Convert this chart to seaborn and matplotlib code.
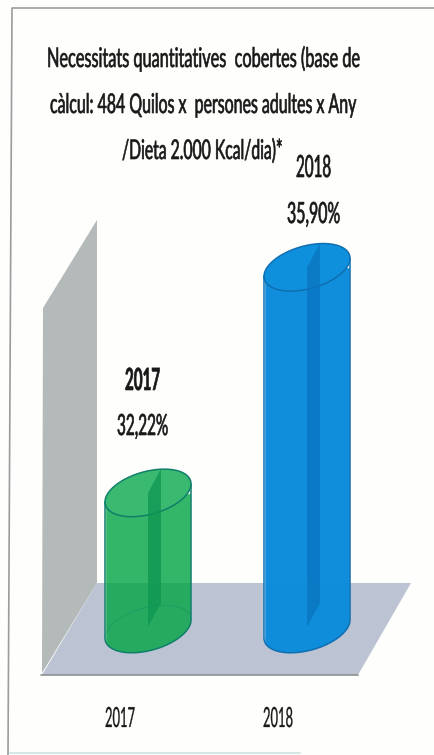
import matplotlib
matplotlib.use("Agg")
import matplotlib.pyplot as plt
import seaborn as sns
import pandas as pd
from matplotlib.patches import Polygon
from matplotlib.patheffects import AbstractPathEffect
from matplotlib.transforms import Affine2D
import numpy as np

years = ["2017", "2018"]
coverage = [32.22, 35.90]
value_labels = ["32,22%", "35,90%"]
title_lines = [
    "Necessitats quantitatives  cobertes (base de",
    "càlcul: 484 Quilos x  persones adultes x Any",
    "/Dieta 2.000 Kcal/dia)*",
]
bar_colors = ["#00a442", "#0b8cdb"]
bar_alpha = [0.80, 0.98]
edge_colors = ["#0f7f6a", "#0f6fb0"]
rim_alpha = [0.45, 0.0]
fin_colors = ["#0d9550", "#0a74bf"]
cap_colors = ["#3aba70", "#0f90dc"]

W, H = 434, 755
PX_PER_UNIT = 61.3
BASE_VALUE = 30.0
BASE_ROW = 629
CAT_STEP = 159
FIRST_COL = 148


def col_to_x(col):
    return (col - FIRST_COL) / CAT_STEP


def row_to_y(row):
    return BASE_VALUE + (BASE_ROW - row) / PX_PER_UNIT


class TallGlyphs(AbstractPathEffect):
    """Stretch glyph outlines vertically about the baseline and thicken them slightly."""

    def __init__(self, factor, stroke):
        super().__init__()
        self.factor = factor
        self.stroke = stroke

    def draw_path(self, renderer, gc, tpath, affine, rgbFace=None):
        gc0 = renderer.new_gc()
        gc0.copy_properties(gc)
        gc0.set_linewidth(self.stroke)
        gc0.set_foreground(rgbFace)
        renderer.draw_path(gc0, tpath, Affine2D().scale(1, self.factor) + affine, rgbFace)
        gc0.restore()


sns.set_theme(style="white")
plt.rcParams["font.family"] = ["Lato", "DejaVu Sans"]

fig = plt.figure(figsize=(W / 100, H / 100), dpi=100, facecolor="#fefefc")
ax = fig.add_axes([0, 0, 1, 1])
ax.set_facecolor("#fefefc")

table = pd.DataFrame({"year": years, "coverage": coverage})
sns.barplot(data=table, x="year", y="coverage", hue="year", palette=bar_colors,
            width=86 / CAT_STEP, legend=False, ax=ax, zorder=3, saturation=1)
ax.set_xlim(col_to_x(0), col_to_x(W))
ax.set_ylim(row_to_y(H), row_to_y(0))
ax.axis("off")


def px_poly(points, **kw):
    xy = [(col_to_x(c), row_to_y(r)) for c, r in points]
    ax.add_patch(Polygon(xy, closed=True, **kw))


# Back wall and floor of the 3D frame
px_poly([(43, 308), (97, 220), (97, 583), (42, 673)], fc="#b4b9b9", ec="none", zorder=1)
px_poly([(97, 583), (411, 583), (358, 675), (42, 675)], fc="#bcc3d2", ec="none", zorder=1)
ax.plot([col_to_x(41), col_to_x(358)], [row_to_y(675)] * 2, color="#8d9192", lw=1.2, zorder=2)

# Page border
ax.plot([col_to_x(c) for c in (8, 12, 434)], [row_to_y(r) for r in (755, 8, 8)],
        color="#9a9d9d", lw=1.2, zorder=1)
ax.plot([col_to_x(10), col_to_x(300)], [row_to_y(753)] * 2, color="#d3e8e4", lw=1.5, zorder=1)

A_X = 43 / CAT_STEP
B_Y = 22 / PX_PER_UNIT
C_Y = 9 / PX_PER_UNIT


def ellipse(cx, cy, t):
    return cx + A_X * np.cos(t), cy + B_Y * np.sin(t) + C_Y * np.cos(t)


for i, patch in enumerate(ax.patches[:len(years)]):
    cx = patch.get_x() + patch.get_width() / 2
    top = patch.get_height()
    patch.set_alpha(bar_alpha[i])

    # Silhouette: lower half of the base ellipse, straight sides up to the top
    t = np.linspace(np.pi, 2 * np.pi, 80)
    bx, by = ellipse(cx, BASE_VALUE, t)
    sx = np.r_[bx, bx[-1], bx[0], bx[0]]
    sy = np.r_[by, top + C_Y, top - C_Y, by[0]]
    ax.add_patch(Polygon(np.c_[sx, sy], closed=True, fc="none", ec=edge_colors[i],
                         lw=1.1, zorder=4))
    clip = Polygon(np.c_[sx, sy], closed=True, transform=ax.transData)
    patch.set_clip_path(clip)

    # Far rim of the base
    t = np.linspace(0, np.pi, 80)
    rx, ry = ellipse(cx, BASE_VALUE, t)
    ax.plot(rx, ry, color=edge_colors[i], lw=0.5, alpha=rim_alpha[i], zorder=4)

    # Top cap
    t = np.linspace(0, 2 * np.pi, 160)
    ex, ey = ellipse(cx, top, t)
    ax.add_patch(Polygon(np.c_[ex, ey], closed=True, fc=cap_colors[i], ec=edge_colors[i],
                         lw=1.1, zorder=5))

    # Central vertical plane of the cylinder
    fw = 13 / CAT_STEP
    fh = 24 / PX_PER_UNIT
    low = BASE_VALUE + 2 / PX_PER_UNIT
    fin = [(cx, top), (cx + fw, top + fh), (cx + fw, low + fh), (cx, low)]
    ax.add_patch(Polygon(fin, closed=True, fc=fin_colors[i], ec="none", alpha=0.75, zorder=6))

fig.canvas.draw()
renderer = fig.canvas.get_renderer()


def fitted_text(s, left, right, baseline, size, weight="normal", stroke=0.45):
    """Set a label to span left..right with glyphs as tall as the font size `size`."""
    txt = ax.text(col_to_x(left), row_to_y(baseline), s, ha="left", va="baseline",
                  fontsize=size, color="#181818", fontweight=weight, zorder=7)
    ratio = (right - left) / txt.get_window_extent(renderer).width
    txt.set_fontsize(size * ratio)
    txt.set_path_effects([TallGlyphs(1 / ratio, stroke)])
    return txt


title_spans = [(47, 360), (50, 357), (122, 283)]
title_baselines = [67, 113, 159]
for line, (l, r), b in zip(title_lines, title_spans, title_baselines):
    fitted_text(line, l, r, b, 19.5)

year_spans = [(125, 160), (296, 331)]
year_baselines = [390, 177]
label_spans = [(117, 168), (287, 340)]
label_baselines = [435, 223]
for i in range(len(years)):
    fitted_text(years[i], *year_spans[i], year_baselines[i], 22, "bold" if i == 0 else "normal")
    fitted_text(value_labels[i], *label_spans[i], label_baselines[i], 21)

tick_spans = [(105, 135), (263, 293)]
for yr, (l, r) in zip(years, tick_spans):
    fitted_text(yr, l, r, 727, 20, stroke=0.2)

fig.savefig("out.png", dpi=100, facecolor=fig.get_facecolor())
